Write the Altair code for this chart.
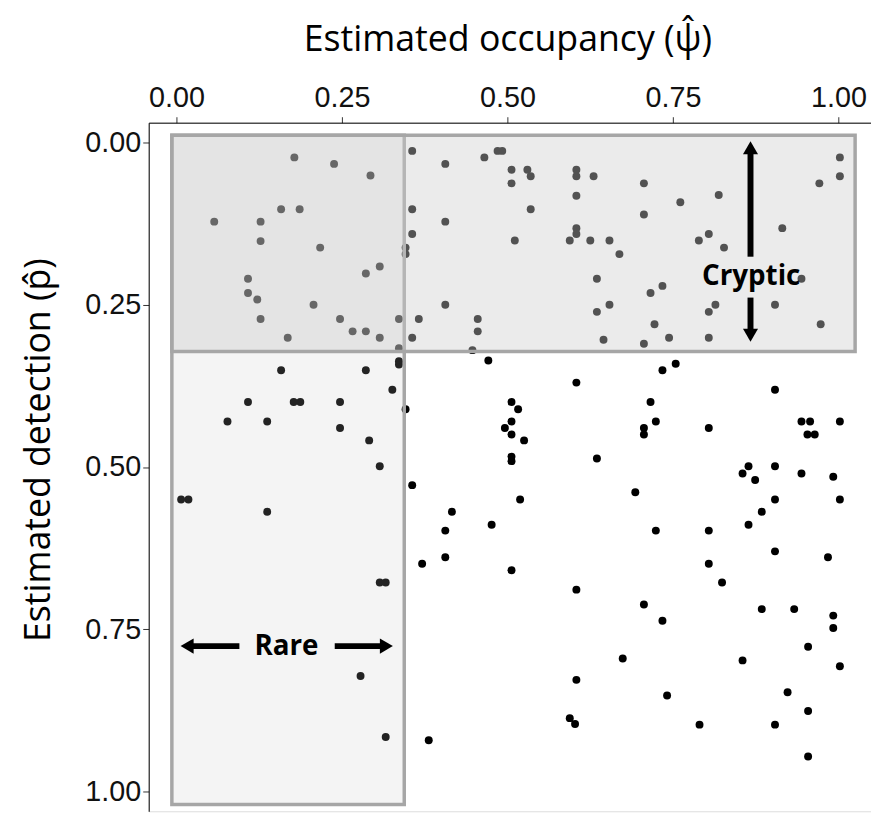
import altair as alt
import pandas as pd

# Estimated occupancy (psi-hat) and detection (p-hat) for each species
occupancy = [
    0.178, 0.238, 0.293, 0.158, 0.186, 0.057, 0.127, 0.127, 0.217, 0.307, 0.286, 0.108, 0.108, 0.122,
    0.207, 0.127, 0.247, 0.336, 0.266, 0.286, 0.168, 0.307, 0.336, 0.346, 0.346,
    0.356, 0.485, 0.492, 0.465, 0.406, 0.506, 0.530, 0.535, 0.506, 0.604, 0.604, 0.630, 0.604, 0.356,
    0.535, 0.406, 0.356, 0.604, 0.604, 0.594, 0.511, 0.625, 0.654, 0.669, 0.635, 0.406, 0.654, 0.635,
    0.366, 0.455, 0.455, 0.356, 0.645, 0.447,
    0.706, 0.706, 0.761, 0.819, 0.789, 0.804, 0.827, 0.915, 0.971, 1.002, 1.002, 0.944, 0.716, 0.734,
    0.804, 0.814, 0.904, 0.722, 0.973, 0.706, 0.744, 0.804,
    0.336, 0.336, 0.158, 0.286, 0.326, 0.108, 0.177, 0.187, 0.247, 0.346, 0.077, 0.137, 0.247, 0.291,
    0.307, 0.356, 0.007, 0.018, 0.137,
    0.471, 0.604, 0.506, 0.516, 0.506, 0.496, 0.506, 0.525, 0.506, 0.506, 0.635, 0.519, 0.416, 0.476,
    0.406, 0.406, 0.371, 0.506, 0.693,
    0.734, 0.754, 0.904, 0.716, 0.724, 0.706, 0.706, 0.804, 0.944, 0.957, 1.002, 0.953, 0.964, 0.864,
    0.855, 0.874, 0.904, 0.944, 0.992, 0.904, 1.002, 0.884, 0.864, 0.724, 0.804, 0.904, 0.984, 0.804,
    0.307, 0.316, 0.278, 0.316,
    0.604, 0.674, 0.604, 0.594, 0.602, 0.381,
    0.824, 0.706, 0.734, 0.884, 0.933, 0.992, 0.992, 0.954, 0.855, 1.002, 0.741, 0.923, 0.954, 0.790,
    0.904, 0.954,
]
detection = [
    0.023, 0.033, 0.051, 0.103, 0.103, 0.122, 0.122, 0.152, 0.162, 0.191, 0.202, 0.210, 0.232, 0.242,
    0.250, 0.272, 0.272, 0.272, 0.291, 0.291, 0.301, 0.301, 0.317, 0.162, 0.172,
    0.013, 0.013, 0.013, 0.023, 0.033, 0.042, 0.042, 0.052, 0.063, 0.042, 0.052, 0.052, 0.082, 0.103,
    0.103, 0.122, 0.141, 0.132, 0.141, 0.151, 0.151, 0.151, 0.151, 0.172, 0.210, 0.250, 0.250, 0.261,
    0.272, 0.272, 0.291, 0.301, 0.304, 0.320,
    0.063, 0.111, 0.092, 0.081, 0.151, 0.141, 0.162, 0.132, 0.063, 0.023, 0.052, 0.210, 0.232, 0.221,
    0.261, 0.250, 0.250, 0.280, 0.280, 0.310, 0.301, 0.301,
    0.337, 0.342, 0.351, 0.351, 0.381, 0.400, 0.400, 0.400, 0.400, 0.411, 0.430, 0.430, 0.440, 0.459,
    0.499, 0.528, 0.550, 0.550, 0.569,
    0.336, 0.370, 0.400, 0.411, 0.430, 0.440, 0.450, 0.459, 0.484, 0.491, 0.487, 0.550, 0.569, 0.589,
    0.598, 0.639, 0.649, 0.659, 0.539,
    0.351, 0.341, 0.381, 0.400, 0.430, 0.440, 0.450, 0.440, 0.430, 0.430, 0.430, 0.450, 0.450, 0.499,
    0.510, 0.520, 0.499, 0.510, 0.515, 0.550, 0.550, 0.569, 0.589, 0.598, 0.598, 0.630, 0.639, 0.649,
    0.678, 0.678, 0.822, 0.916,
    0.689, 0.795, 0.828, 0.887, 0.896, 0.921,
    0.678, 0.712, 0.737, 0.719, 0.719, 0.729, 0.748, 0.777, 0.798, 0.807, 0.852, 0.847, 0.876, 0.897,
    0.897, 0.946,
]

# Shaded regions: rare (low occupancy) and cryptic (low detection)
box_names = ["Rare", "Cryptic"]
box_x1 = [-0.007, -0.007]
box_x2 = [0.344, 1.025]
box_y1 = [-0.011, -0.011]
box_y2 = [1.02, 0.322]
box_fill = ["#c0c0c0", "#cdcdcd"]
box_opacity = [0.18, 0.40]

# Arrow annotations
shaft_x1 = [0.867, 0.867, 0.016, 0.239]
shaft_x2 = [0.867, 0.867, 0.095, 0.312]
shaft_y1 = [0.012, 0.239, 0.776, 0.776]
shaft_y2 = [0.176, 0.294, 0.776, 0.776]
head_x = [0.867, 0.867, 0.016, 0.317]
head_y = [0.008, 0.297, 0.776, 0.776]
head_shape = ["triangle-up", "triangle-down", "triangle-left", "triangle-right"]
label_text = ["Cryptic", "Rare"]
label_x = [0.868, 0.166]
label_y = [0.207, 0.777]

pts = pd.DataFrame({"occ": occupancy, "det": detection})
boxes = pd.DataFrame({"name": box_names, "x1": box_x1, "x2": box_x2, "y1": box_y1, "y2": box_y2,
                      "fill": box_fill, "op": box_opacity})
shafts = pd.DataFrame({"x1": shaft_x1, "x2": shaft_x2, "y1": shaft_y1, "y2": shaft_y2})
heads = pd.DataFrame({"x": head_x, "y": head_y, "shape": head_shape})
labels = pd.DataFrame({"text": label_text, "x": label_x, "y": label_y})

XDOM = [-0.042, 1.049]
YDOM = [-0.0305, 1.0305]
xs = alt.Scale(domain=XDOM, nice=False, zero=False)
ys = alt.Scale(domain=YDOM, nice=False, zero=False, reverse=True)

x_axis = alt.Axis(
    orient="top", values=[0, 0.25, 0.5, 0.75, 1.0], format=".2f", grid=False,
    title="Estimated occupancy (ψ̂)", titleFont="Open Sans", titleFontSize=36, titleFontWeight="normal",
    titleColor="#000000", titleX=362, titleY=-73, titleBaseline="alphabetic", titleAlign="center",
    titleAnchor="middle",
    labelFont="Liberation Sans", labelFontSize=29, labelColor="#111111", labelPadding=4,
    labelFlush=False, labelOverlap=False,
    tickSize=6, tickColor="#333333", domainColor="#000000", domainWidth=1,
)
y_axis = alt.Axis(
    orient="left", values=[0, 0.25, 0.5, 0.75, 1.0], format=".2f", grid=False,
    title="Estimated detection (p̂)", titleFont="Open Sans", titleFontSize=36, titleFontWeight="normal",
    titleColor="#000000", titleX=-100, titleY=330, titleAngle=-90, titleBaseline="alphabetic",
    titleAlign="center", titleAnchor="middle",
    labelFont="Liberation Sans", labelFontSize=29, labelColor="#111111", labelPadding=2,
    labelFlush=False, labelOverlap=False,
    tickSize=6, tickColor="#333333", domainColor="#000000", domainWidth=1,
)


def xq(field):
    return alt.X(field, type="quantitative", scale=xs, axis=x_axis)


def yq(field):
    return alt.Y(field, type="quantitative", scale=ys, axis=y_axis)


points = alt.Chart(pts).mark_circle(size=64, color="#000000", opacity=1).encode(
    x=xq("occ"), y=yq("det"),
)

rects = alt.Chart(boxes).mark_rect(stroke="#a6a6a6", strokeWidth=3.5).encode(
    x=xq("x1"), x2="x2:Q", y=yq("y1"), y2="y2:Q",
    fill=alt.Fill("fill:N", scale=None),
    fillOpacity=alt.FillOpacity("op:Q", scale=None),
    order=alt.Order("name:N", sort="descending"),
)

shaft_layer = alt.Chart(shafts).mark_rule(strokeWidth=6, color="#000000").encode(
    x=xq("x1"), x2="x2:Q", y=yq("y1"), y2="y2:Q",
)

head_layer = alt.Chart(heads).mark_point(filled=True, color="#000000", opacity=1, size=230).encode(
    x=xq("x"), y=yq("y"),
    shape=alt.Shape("shape:N", scale=None),
)

text_layer = alt.Chart(labels).mark_text(
    font="Open Sans", fontWeight="bold", fontSize=28, color="#000000", align="center", baseline="middle"
).encode(
    x=xq("x"), y=yq("y"),
    text="text:N",
)

chart = alt.layer(points, rects, shaft_layer, head_layer, text_layer).properties(
    width=729, height=695,
    autosize=alt.AutoSizeParams(type="none"),
    padding={"left": 142, "top": 112, "right": 0, "bottom": 0},
).configure_view(strokeWidth=0, strokeOpacity=0).configure(background="white")

chart.save("out.html", embed_options={"renderer": "svg", "actions": False})
